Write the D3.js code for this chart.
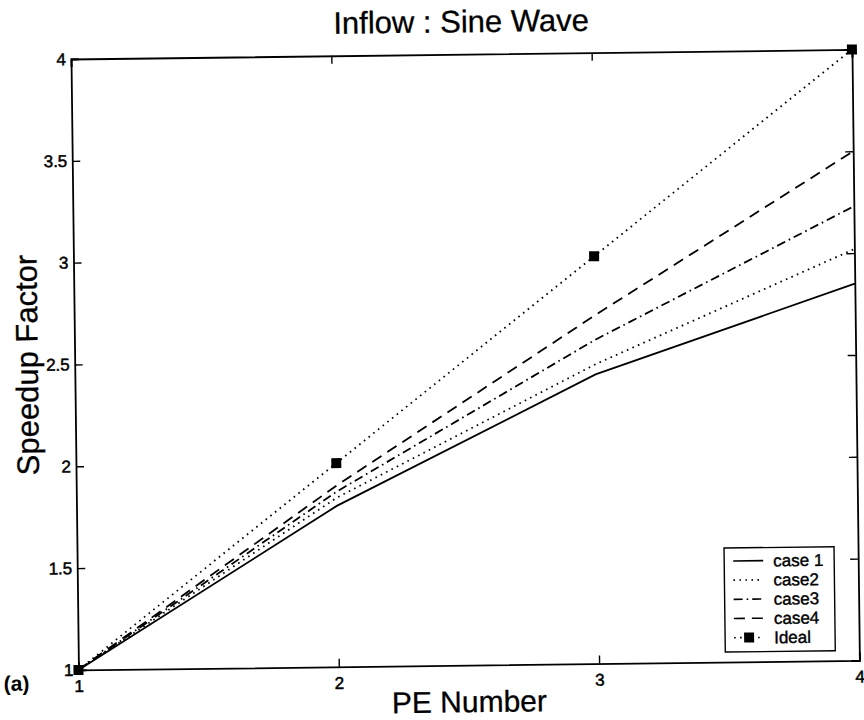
<!DOCTYPE html>
<html>
<head>
<meta charset="utf-8">
<script src="https://cdn.jsdelivr.net/npm/d3@7"></script>
<style>
    body { margin: 0; background: #fff; }
    #chart-area { width: 864px; height: 720px; }
    text { font-family: "Liberation Sans", Arial, Helvetica, sans-serif; fill: #000; }
</style>
</head>
<body>
<div id="chart-area"></div>
<script>

// ---- data ----
const peNumbers = [1, 2, 3, 4];
const case1 = [1, 1.79, 2.42, 2.85];
const case2 = [1, 1.83, 2.47, 3.02];
const case3 = [1, 1.86, 2.59, 3.23];
const case4 = [1, 1.89, 2.71, 3.50];
const ideal = [1, 2, 3, 4];

const seriesNames = ["case 1", "case2", "case3", "case4", "Ideal"];
const xTicks = [1, 2, 3, 4];
const yTicks = [1, 1.5, 2, 2.5, 3, 3.5, 4];

const chartTitle = "Inflow : Sine Wave";
const xLabel = "PE Number";
const yLabel = "Speedup Factor";
const panelLabel = "(a)";


class SpeedupVis {

    constructor(parentElement) {
        this.parentElement = parentElement;
        this.displayData = [];
        this.initVis();
    }

    initVis() {
        let vis = this;
        vis.margin = {top: 59, right: 12, bottom: 50, left: 71};
        vis.width = 781;
        vis.height = 611;

        vis.svg = d3.select("#" + vis.parentElement).append("svg")
            .attr("width", 864)
            .attr("height", 720);

        vis.svg.append("rect")
            .attr("width", 864)
            .attr("height", 720)
            .attr("fill", "white");

        // the scanned page is tilted a little, so tilt the whole plot
        vis.g = vis.svg.append("g")
            .attr("transform", `translate(${vis.margin.left},${vis.margin.top}) rotate(-0.7)`);

        vis.x = d3.scaleLinear().domain([1, 4]).range([0, vis.width]);
        vis.y = d3.scaleLinear().domain([1, 4]).range([vis.height, 0]);

        // line styles per series
        vis.styles = {
            "case 1": {dash: null},
            "case2": {dash: "1.6,4.4"},
            "case3": {dash: "9,4,1.6,4"},
            "case4": {dash: "11,7"},
            "Ideal": {dash: "1.6,4.4"}
        };

        // axes, ticks pointing inward on all four sides
        let tick = 8;
        vis.g.append("g")
            .attr("transform", `translate(0,${vis.height})`)
            .call(d3.axisBottom(vis.x).tickValues(xTicks).tickSize(-tick).tickPadding(tick + 2).tickFormat(d3.format("d")));
        vis.g.append("g")
            .call(d3.axisTop(vis.x).tickValues(xTicks).tickSize(-tick).tickFormat(""));
        vis.g.append("g")
            .call(d3.axisLeft(vis.y).tickValues(yTicks).tickSize(-tick).tickPadding(5).tickFormat(d => d));
        vis.g.append("g")
            .attr("transform", `translate(${vis.width},0)`)
            .call(d3.axisRight(vis.y).tickValues(yTicks).tickSize(-tick).tickFormat(""));

        vis.g.selectAll(".domain")
            .attr("stroke", "#000")
            .attr("stroke-width", 1.8);
        vis.g.selectAll(".tick line")
            .attr("stroke", "#000")
            .attr("stroke-width", 1.4);
        vis.g.selectAll(".tick text")
            .style("font-size", "17px")
            .style("font-family", "'Liberation Sans', Arial, sans-serif")
            .attr("fill", "#000")
            .attr("stroke", "#000")
            .attr("stroke-width", 0.5);

        // titles
        vis.g.append("text")
            .attr("x", vis.width / 2)
            .attr("y", -22)
            .attr("text-anchor", "middle")
            .style("font-size", "31px")
            .attr("stroke", "#000")
            .attr("stroke-width", 0.3)
            .text(chartTitle);

        vis.g.append("text")
            .attr("x", vis.width / 2)
            .attr("y", vis.height + 47)
            .attr("text-anchor", "middle")
            .style("font-size", "30px")
            .attr("stroke", "#000")
            .attr("stroke-width", 0.3)
            .text(xLabel);

        vis.g.append("text")
            .attr("transform", `translate(-37,${vis.height / 2}) rotate(-90)`)
            .attr("text-anchor", "middle")
            .style("font-size", "31px")
            .attr("stroke", "#000")
            .attr("stroke-width", 0.3)
            .text(yLabel);

        vis.g.append("text")
            .attr("x", -75)
            .attr("y", vis.height + 20)
            .style("font-size", "21px")
            .style("font-weight", "bold")
            .text(panelLabel);

        vis.line = d3.line()
            .x(d => vis.x(d.pe))
            .y(d => vis.y(d.value));

        vis.wrangleData();
    }

    wrangleData() {
        let vis = this;
        let values = [case1, case2, case3, case4, ideal];
        vis.displayData = seriesNames.map((name, i) => ({
            name: name,
            points: peNumbers.map((pe, j) => ({pe: pe, value: values[i][j]}))
        }));
        vis.updateVis();
    }

    updateVis() {
        let vis = this;

        vis.g.selectAll(".series-line")
            .data(vis.displayData)
            .enter()
            .append("path")
            .attr("class", "series-line")
            .attr("d", d => vis.line(d.points))
            .attr("fill", "none")
            .attr("stroke", "#000")
            .attr("stroke-width", 1.8)
            .attr("stroke-dasharray", d => vis.styles[d.name].dash);

        // ideal markers
        let size = 10;
        vis.g.selectAll(".ideal-marker")
            .data(vis.displayData[4].points)
            .enter()
            .append("rect")
            .attr("class", "ideal-marker")
            .attr("x", d => vis.x(d.pe) - size / 2)
            .attr("y", d => vis.y(d.value) - size / 2)
            .attr("width", size)
            .attr("height", size)
            .attr("fill", "#000");

        // legend box in lower right
        let legend = vis.g.append("g")
            .attr("transform", `translate(${vis.width - 134},${vis.height - 114})`);
        legend.append("rect")
            .attr("width", 110)
            .attr("height", 104)
            .attr("fill", "white")
            .attr("stroke", "#000")
            .attr("stroke-width", 1.4);

        let rows = legend.selectAll(".legend-row")
            .data(vis.displayData)
            .enter()
            .append("g")
            .attr("class", "legend-row")
            .attr("transform", (d, i) => `translate(0,${13 + i * 19.2})`);

        rows.append("line")
            .attr("x1", 9)
            .attr("x2", 39)
            .attr("stroke", "#000")
            .attr("stroke-width", 1.6)
            .attr("stroke-dasharray", d => vis.styles[d.name].dash);

        rows.filter(d => d.name === "Ideal")
            .append("rect")
            .attr("x", 24 - 5)
            .attr("y", -5)
            .attr("width", 10)
            .attr("height", 10)
            .attr("fill", "#000");

        rows.append("text")
            .attr("x", 49)
            .attr("dy", "0.35em")
            .style("font-size", "17px")
            .attr("stroke", "#000")
            .attr("stroke-width", 0.4)
            .text(d => d.name);
    }
}

let speedupVis = new SpeedupVis("chart-area");

</script>
</body>
</html>
